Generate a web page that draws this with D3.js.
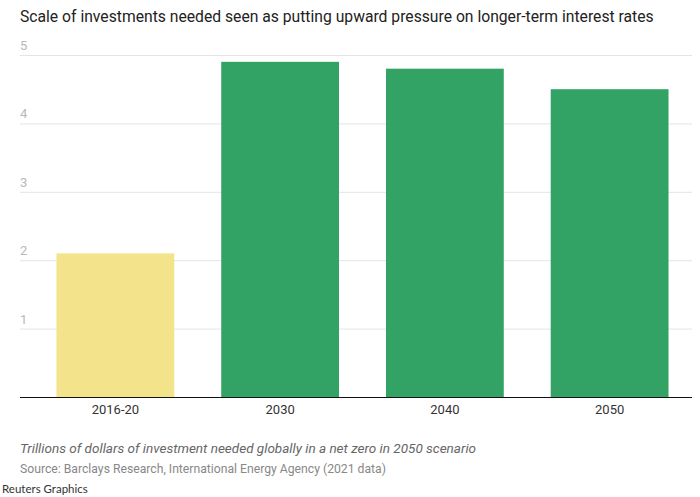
<!DOCTYPE html>
<html>
<head>
  <script src="https://d3js.org/d3.v7.min.js"></script>
  <style>
    html, body {
      margin: 0px;
      padding: 0px;
      background: white;
    }
    svg { display: block; }
    text { font-family: Roboto, "Noto Sans", sans-serif; }
    .title { font-size: 15.7px; fill: #222; }
    .yLabel { font-size: 13px; fill: #b8b8b8; }
    .xLabel { font-size: 13px; fill: #333; }
    .note { font-size: 13.5px; fill: #666; font-style: italic; }
    .source { font-size: 12.2px; fill: #888; }
    .credit { font-size: 11.5px; fill: #333; font-family: Lato, sans-serif; }
  </style>
</head>
<body>
  <script>
    const width = 700;
    const height = 497;
    const margin = {top: 55, left: 33, right: 8, bottom: 100};

    // data
    const periods = ["2016-20", "2030", "2040", "2050"];
    const investment = [2.1, 4.9, 4.8, 4.5];
    const yTicks = [1, 2, 3, 4, 5];
    const barColors = ["#f3e38a", "#33a265", "#33a265", "#33a265"];

    const svg = d3.select("body")
      .append("svg")
      .attr("width", width)
      .attr("height", height);

    const xScale = d3.scaleBand()
      .domain(periods)
      .range([margin.left, width - margin.right])
      .paddingInner(0.285)
      .paddingOuter(0.1425);

    const yScale = d3.scaleLinear()
      .domain([0, 5])
      .range([height - margin.bottom, margin.top]);

    // gridlines with labels sitting above them
    const grid = svg.append("g");
    grid.selectAll("line")
      .data(yTicks)
      .enter()
      .append("line")
        .attr("x1", 20)
        .attr("x2", width - margin.right)
        .attr("y1", d => yScale(d) + 0.5)
        .attr("y2", d => yScale(d) + 0.5)
        .attr("stroke", "#e4e4e4")
        .attr("stroke-width", 1);

    grid.selectAll("text")
      .data(yTicks)
      .enter()
      .append("text")
        .attr("class", "yLabel")
        .attr("x", 20)
        .attr("y", d => yScale(d) - 5)
        .text(d => d);

    const data = periods.map((p, i) => ({period: p, value: investment[i], color: barColors[i]}));

    svg.selectAll("rect.bar")
      .data(data)
      .enter()
      .append("rect")
        .attr("class", "bar")
        .attr("x", d => xScale(d.period))
        .attr("y", d => yScale(d.value))
        .attr("width", xScale.bandwidth())
        .attr("height", d => yScale(0) - yScale(d.value))
        .attr("fill", d => d.color);

    // baseline + x labels
    const xAxis = svg.append("g")
      .attr("transform", `translate(0,${yScale(0)})`)
      .call(d3.axisBottom(xScale).tickSize(0).tickPadding(8));
    xAxis.select(".domain").remove();
    xAxis.selectAll("text")
      .attr("class", "xLabel")
      .attr("font-size", null)
      .attr("font-family", null)
      .attr("fill", null);

    svg.append("line")
      .attr("x1", 20)
      .attr("x2", width - margin.right)
      .attr("y1", yScale(0) + 0.5)
      .attr("y2", yScale(0) + 0.5)
      .attr("stroke", "#111")
      .attr("stroke-width", 1.2);

    svg.append("text")
      .attr("class", "title")
      .attr("x", 20)
      .attr("y", 22)
      .text("Scale of investments needed seen as putting upward pressure on longer-term interest rates");

    svg.append("text")
      .attr("class", "note")
      .attr("x", 20)
      .attr("y", 453)
      .text("Trillions of dollars of investment needed globally in a net zero in 2050 scenario");

    svg.append("text")
      .attr("class", "source")
      .attr("x", 20)
      .attr("y", 473)
      .text("Source: Barclays Research, International Energy Agency (2021 data)");

    svg.append("text")
      .attr("class", "credit")
      .attr("x", 2)
      .attr("y", 493)
      .text("Reuters Graphics");
  </script>
</body>
</html>
